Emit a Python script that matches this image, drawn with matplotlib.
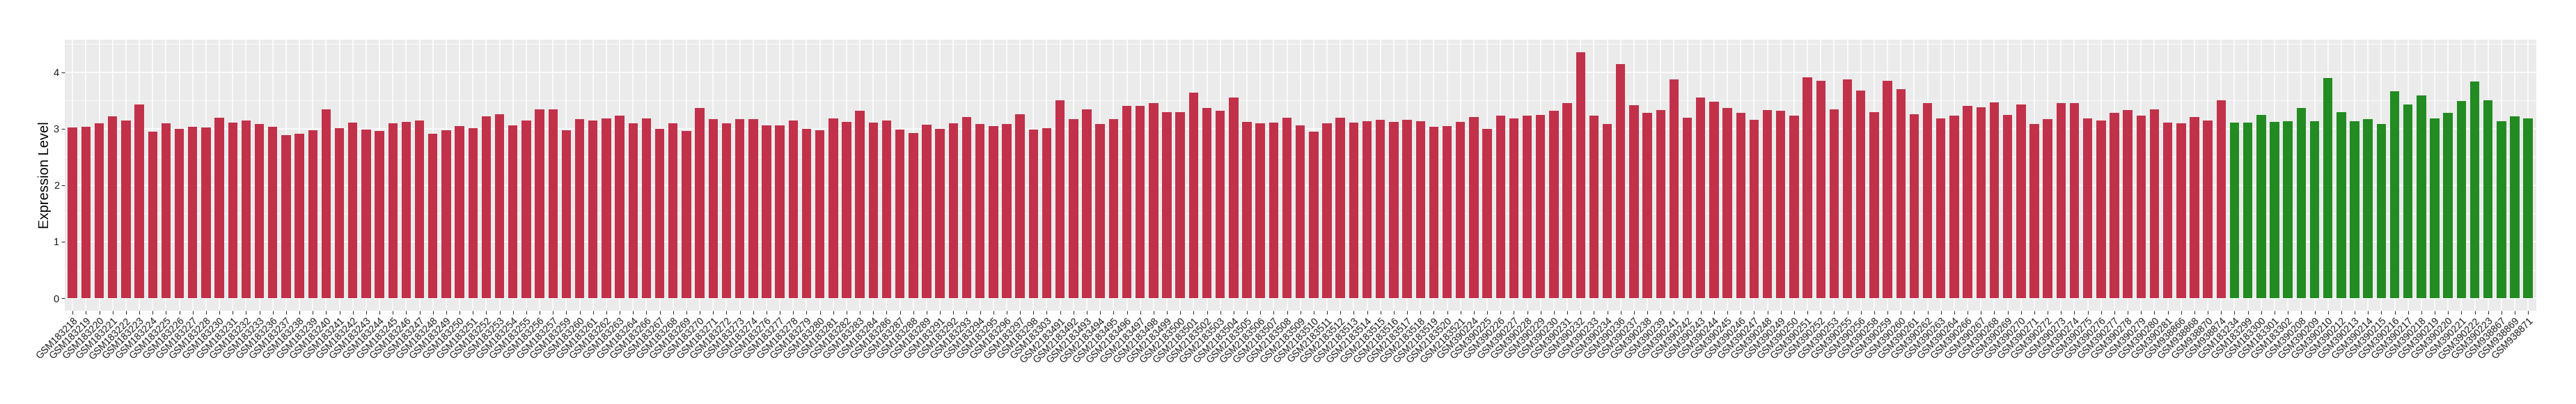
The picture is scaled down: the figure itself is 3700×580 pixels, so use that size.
import matplotlib
matplotlib.use("Agg")
import matplotlib.pyplot as plt

plt.rcParams['font.family'] = ['Liberation Sans', 'DejaVu Sans']

# ---- data ----
red_samples = [
    "GSM183218", "GSM183219", "GSM183220", "GSM183221", "GSM183222", "GSM183223", "GSM183224",
    "GSM183225", "GSM183226", "GSM183227", "GSM183228", "GSM183230", "GSM183231", "GSM183232",
    "GSM183233", "GSM183236", "GSM183237", "GSM183238", "GSM183239", "GSM183240", "GSM183241",
    "GSM183242", "GSM183243", "GSM183244", "GSM183245", "GSM183246", "GSM183247", "GSM183248",
    "GSM183249", "GSM183250", "GSM183251", "GSM183252", "GSM183253", "GSM183254", "GSM183255",
    "GSM183256", "GSM183257", "GSM183259", "GSM183260", "GSM183261", "GSM183262", "GSM183263",
    "GSM183264", "GSM183266", "GSM183267", "GSM183268", "GSM183269", "GSM183270", "GSM183271",
    "GSM183272", "GSM183273", "GSM183274", "GSM183276", "GSM183277", "GSM183278", "GSM183279",
    "GSM183280", "GSM183281", "GSM183282", "GSM183283", "GSM183284", "GSM183286", "GSM183287",
    "GSM183288", "GSM183289", "GSM183291", "GSM183292", "GSM183293", "GSM183294", "GSM183295",
    "GSM183296", "GSM183297", "GSM183298", "GSM183303",
    "GSM2183491", "GSM2183492", "GSM2183493", "GSM2183494", "GSM2183495", "GSM2183496",
    "GSM2183497", "GSM2183498", "GSM2183499", "GSM2183500", "GSM2183501", "GSM2183502",
    "GSM2183503", "GSM2183504", "GSM2183505", "GSM2183506", "GSM2183507", "GSM2183508",
    "GSM2183509", "GSM2183510", "GSM2183511", "GSM2183512", "GSM2183513", "GSM2183514",
    "GSM2183515", "GSM2183516", "GSM2183517", "GSM2183518", "GSM2183519", "GSM2183520",
    "GSM2183521",
    "GSM390224", "GSM390225", "GSM390226", "GSM390227", "GSM390228", "GSM390229", "GSM390230",
    "GSM390231", "GSM390232", "GSM390233", "GSM390234", "GSM390236", "GSM390237", "GSM390238",
    "GSM390239", "GSM390241", "GSM390242", "GSM390243", "GSM390244", "GSM390245", "GSM390246",
    "GSM390247", "GSM390248", "GSM390249", "GSM390250", "GSM390251", "GSM390252", "GSM390253",
    "GSM390255", "GSM390256", "GSM390258", "GSM390259", "GSM390260", "GSM390261", "GSM390262",
    "GSM390263", "GSM390264", "GSM390266", "GSM390267", "GSM390268", "GSM390269", "GSM390270",
    "GSM390271", "GSM390272", "GSM390273", "GSM390274", "GSM390275", "GSM390276", "GSM390277",
    "GSM390278", "GSM390279", "GSM390280", "GSM390281",
    "GSM938866", "GSM938868", "GSM938870", "GSM938874",
]
red_values = [
    3.02, 3.04, 3.10, 3.22, 3.15, 3.43, 2.95, 3.10, 3.00, 3.04, 3.02, 3.20, 3.11, 3.15,
    3.09, 3.04, 2.89, 2.91, 2.97, 3.35, 3.01, 3.11, 2.99, 2.96, 3.10, 3.12, 3.15,
    2.91, 2.97, 3.05, 3.01, 3.22, 3.26, 3.06, 3.15, 3.35, 3.35, 2.97, 3.17, 3.15, 3.18,
    3.23, 3.10, 3.18, 3.00, 3.10, 2.96, 3.37, 3.17, 3.10, 3.17, 3.17, 3.06, 3.06, 3.15,
    3.00, 2.97, 3.18, 3.12, 3.32, 3.11, 3.15, 2.99, 2.93, 3.07, 3.00, 3.10, 3.21, 3.09,
    3.05, 3.09, 3.26, 2.99, 3.01, 3.50, 3.17, 3.35, 3.09, 3.17, 3.40, 3.40, 3.45, 3.30, 3.30,
    3.64, 3.37, 3.32, 3.55, 3.12, 3.10, 3.11, 3.20, 3.06, 2.95, 3.10, 3.20, 3.11, 3.14,
    3.16, 3.12, 3.16, 3.14, 3.04, 3.05, 3.12, 3.21, 3.00, 3.23, 3.18, 3.23, 3.25, 3.32, 3.45,
    4.36, 3.23, 3.09, 4.14, 3.42, 3.28, 3.33, 3.87, 3.20, 3.56, 3.48, 3.37, 3.28, 3.16,
    3.33, 3.32, 3.23, 3.91, 3.85, 3.35, 3.87, 3.68, 3.30, 3.85, 3.70, 3.26, 3.45, 3.18,
    3.23, 3.40, 3.38, 3.47, 3.25, 3.43, 3.09, 3.17, 3.45, 3.45, 3.18, 3.15, 3.28, 3.33,
    3.23, 3.35, 3.11, 3.10, 3.21, 3.15, 3.50,
]
green_samples = [
    "GSM183234", "GSM183299", "GSM183300", "GSM183301", "GSM183302",
    "GSM390208", "GSM390209", "GSM390210", "GSM390212", "GSM390213", "GSM390214",
    "GSM390215", "GSM390216", "GSM390217", "GSM390218", "GSM390219", "GSM390220",
    "GSM390221", "GSM390222", "GSM390223",
    "GSM938867", "GSM938869", "GSM938871",
]
green_values = [
    3.11, 3.11, 3.25, 3.12, 3.14, 3.37, 3.14, 3.90, 3.30, 3.14, 3.17,
    3.09, 3.66, 3.43, 3.59, 3.18, 3.28, 3.49, 3.84, 3.50, 3.14, 3.22, 3.18,
]
y_ticks = [0, 1, 2, 3, 4]
y_label = "Expression Level"
red_color = "#C2314A"
green_color = "#228B22"

# ---- figure ----
W, H = 3700, 580
fig = plt.figure(figsize=(W / 100, H / 100), dpi=100)
ax = fig.add_axes([92.7 / W, 1 - 445.7 / H, (3642.7 - 92.7) / W, (445.7 - 57) / H])

samples = red_samples + green_samples
values = red_values + green_values
colors = [red_color] * len(red_samples) + [green_color] * len(green_samples)
xs = list(range(len(samples)))

ax.set_facecolor("#EBEBEB")
ax.bar(xs, values, width=0.7, color=colors, zorder=3)

ymax = max(values)
ax.set_ylim(-0.05 * ymax, ymax * 1.05)
ax.set_xlim(-0.6, len(samples) - 1 + 0.6)

ax.set_yticks(y_ticks)
ax.set_yticks([v + 0.5 for v in y_ticks], minor=True)
ax.set_xticks(xs)
ax.set_xticklabels(samples, rotation=45, ha="right", va="top", rotation_mode="anchor",
                   fontsize=10, color="#1A1A1A")
for lab in ax.get_yticklabels():
    lab.set_fontsize(10.5)
    lab.set_color("#1A1A1A")

ax.grid(which="major", color="white", linewidth=1.1, zorder=0)
ax.grid(which="minor", axis="y", color="white", linewidth=0.55, zorder=0)
ax.set_axisbelow(True)
ax.tick_params(axis="both", which="major", length=3.5, width=0.8, color="#333333", pad=2)
ax.tick_params(axis="y", which="minor", length=0)
for s in ax.spines.values():
    s.set_visible(False)

fig.text(65 / W, 1 - 251 / H, y_label, rotation=90, ha="center", va="center",
         fontsize=14.5, color="black")

fig.savefig("out.png", dpi=100)
